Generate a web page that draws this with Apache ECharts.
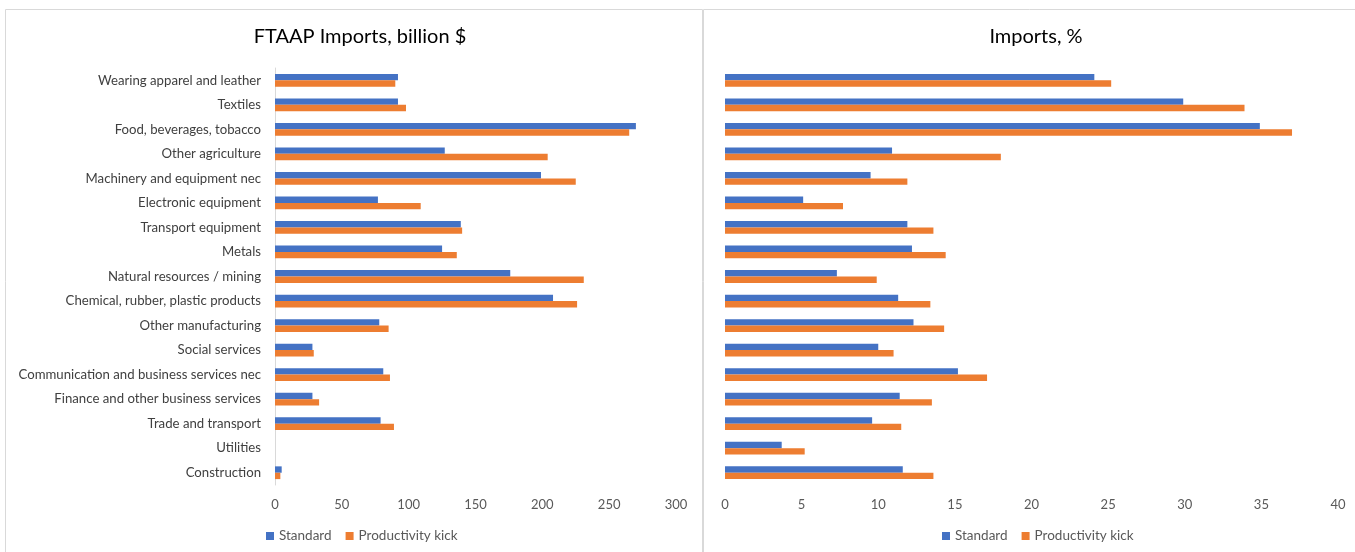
<!DOCTYPE html>
<html>
<head>
<meta charset="utf-8">
<script src="https://cdn.jsdelivr.net/npm/echarts@6/dist/echarts.min.js"></script>
<style>
  html, body { margin: 0; padding: 0; background: #fff; }
  #chart { width: 1355px; height: 552px; }
</style>
</head>
<body>
<div id="chart"></div>
<script>
// Sectors, listed top to bottom
const sectors = [
  'Wearing apparel and leather',
  'Textiles',
  'Food, beverages, tobacco',
  'Other agriculture',
  'Machinery and equipment nec',
  'Electronic equipment',
  'Transport equipment',
  'Metals',
  'Natural resources / mining',
  'Chemical, rubber, plastic products',
  'Other manufacturing',
  'Social services',
  'Communication and business services nec',
  'Finance and other business services',
  'Trade and transport',
  'Utilities',
  'Construction'
];

// FTAAP imports, billion $
const importsStandard = [92, 92, 270, 127, 199, 77, 139, 125, 176, 208, 78, 28, 81, 28, 79, 0, 5];
const importsProductivity = [90, 98, 265, 204, 225, 109, 140, 136, 231, 226, 85, 29, 86, 33, 89, 0, 4];

// Imports, % change
const pctStandard = [24.1, 29.9, 34.9, 10.9, 9.5, 5.1, 11.9, 12.2, 7.3, 11.3, 12.3, 10.0, 15.2, 11.4, 9.6, 3.7, 11.6];
const pctProductivity = [25.2, 33.9, 37.0, 18.0, 11.9, 7.7, 13.6, 14.4, 9.9, 13.4, 14.3, 11.0, 17.1, 13.5, 11.5, 5.2, 13.6];

const seriesNames = ['Standard', 'Productivity kick'];
const leftTicks = { min: 0, max: 300, interval: 50 };
const rightTicks = { min: 0, max: 40, interval: 5 };

const FONT = 'Lato, "Open Sans", sans-serif';
const GREY = '#595959';
const BLUE = '#4472C4';
const ORANGE = '#ED7D31';

const chart = echarts.init(document.getElementById('chart'));

function valueAxis(grid, ticks) {
  return {
    type: 'value', gridIndex: grid,
    min: ticks.min, max: ticks.max, interval: ticks.interval,
    axisLine: { show: false }, axisTick: { show: false },
    splitLine: { show: false },
    axisLabel: { color: GREY, fontFamily: FONT, fontSize: 13, margin: 13 }
  };
}

function bar(name, x, y, data, color) {
  return {
    name, type: 'bar', xAxisIndex: x, yAxisIndex: y, data,
    itemStyle: { color },
    barGap: '0%', barCategoryGap: '48%',
    silent: true
  };
}

chart.setOption({
  animation: false,
  color: [BLUE, ORANGE],
  textStyle: { fontFamily: FONT },
  graphic: [
    { type: 'rect', shape: { x: 5.5, y: 9.5, width: 697, height: 560 },
      style: { fill: 'none', stroke: '#d9d9d9', lineWidth: 1 } },
    { type: 'rect', shape: { x: 703.5, y: 9.5, width: 660, height: 560 },
      style: { fill: 'none', stroke: '#d9d9d9', lineWidth: 1 } }
  ],
  title: [
    { text: 'FTAAP Imports, billion $', left: 355, top: 22, textAlign: 'center',
      textStyle: { fontFamily: FONT, fontSize: 20, fontWeight: 'normal', color: '#000' } },
    { text: 'Imports, %', left: 1031, top: 22, textAlign: 'center',
      textStyle: { fontFamily: FONT, fontSize: 20, fontWeight: 'normal', color: '#000' } }
  ],
  legend: [
    { data: seriesNames, left: 261, top: 524, icon: 'rect', itemWidth: 8, itemHeight: 8,
      itemGap: 14, textStyle: { color: GREY, fontFamily: FONT, fontSize: 13.5 } },
    { data: seriesNames, left: 937, top: 524, icon: 'rect', itemWidth: 8, itemHeight: 8,
      itemGap: 14, textStyle: { color: GREY, fontFamily: FONT, fontSize: 13.5 } }
  ],
  grid: [
    { left: 275, right: 679, top: 68, height: 417 },
    { left: 725, right: 17, top: 68, height: 417 }
  ],
  xAxis: [valueAxis(0, leftTicks), valueAxis(1, rightTicks)],
  yAxis: [
    { type: 'category', gridIndex: 0, data: sectors, inverse: true,
      axisLine: { show: true, lineStyle: { color: '#d9d9d9', width: 1 } },
      axisTick: { show: false },
      axisLabel: { color: '#404040', fontFamily: FONT, fontSize: 13.2, margin: 14 } },
    { type: 'category', gridIndex: 1, data: sectors, inverse: true,
      axisLine: { show: false }, axisTick: { show: false },
      axisLabel: { show: false } }
  ],
  series: [
    bar(seriesNames[0], 0, 0, importsStandard, BLUE),
    bar(seriesNames[1], 0, 0, importsProductivity, ORANGE),
    bar(seriesNames[0], 1, 1, pctStandard, BLUE),
    bar(seriesNames[1], 1, 1, pctProductivity, ORANGE)
  ]
});
</script>
</body>
</html>
